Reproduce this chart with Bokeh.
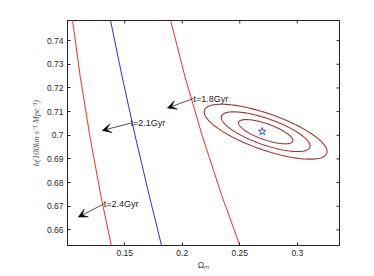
import numpy as np
from bokeh.plotting import figure
from bokeh.models import (FixedTicker, CustomJSTickFormatter, Range1d, Arrow, VeeHead, Label)
from bokeh.embed import file_html
from bokeh.resources import INLINE

# ---- data ----
h_grid = [0.65, 0.675, 0.70, 0.725, 0.75]
om_t18 = [0.2526, 0.2340, 0.2172, 0.2022, 0.1891]
om_t21 = [0.1837, 0.1710, 0.1589, 0.1476, 0.1370]
om_t24 = [0.1397, 0.1290, 0.1195, 0.1112, 0.1042]

age_labels = ["t=1.8Gyr", "t=2.1Gyr", "t=2.4Gyr"]
label_om = [0.2097, 0.1550, 0.1318]
label_h = [0.7155, 0.7051, 0.6710]
arrow_om = [0.1871, 0.1304, 0.1096]
arrow_h = [0.7115, 0.7020, 0.6654]

best_om, best_h = 0.2695, 0.7016
cont_om, cont_h = 0.2725, 0.7015
sigma_om, sigma_h, rho = 0.01555, 0.00338, -0.72
dchi2_levels = [2.30, 6.17, 11.8]

x_ticks = [0.15, 0.2, 0.25, 0.3]
y_ticks = [0.66, 0.67, 0.68, 0.69, 0.70, 0.71, 0.72, 0.73, 0.74]
x_lim = (0.1002, 0.3367)
y_lim = (0.6534, 0.7485)

AX = "#262626"
FONT = "Liberation Sans"

p = figure(width=370, height=272, output_backend="svg", toolbar_location=None,
           x_range=Range1d(*x_lim), y_range=Range1d(*y_lim),
           min_border_left=67, min_border_right=31, min_border_top=20, min_border_bottom=27)
p.grid.visible = False
p.outline_line_color = AX
p.outline_line_width = 1
p.background_fill_color = "white"

fmt = CustomJSTickFormatter(code="return String(Math.round(tick*100)/100);")

for ax, ticks in ((p.xaxis[0], x_ticks), (p.yaxis[0], y_ticks)):
    ax.ticker = FixedTicker(ticks=ticks)
    ax.formatter = fmt
    ax.major_tick_in = 3
    ax.major_tick_out = 0
    ax.minor_tick_line_color = None
    ax.axis_line_color = AX
    ax.axis_line_width = 1
    ax.major_tick_line_color = AX
    ax.major_label_text_font = FONT
    ax.major_label_text_color = AX
    ax.major_label_text_font_size = "8.5px"
    ax.major_label_standoff = 4

p.yaxis[0].axis_label = "h(100km s\u207b\u00b9 Mpc\u207b\u00b9)"
p.yaxis[0].axis_label_text_font = "Liberation Serif"
p.yaxis[0].axis_label_text_font_style = "italic"
p.yaxis[0].axis_label_text_font_size = "8.5px"
p.yaxis[0].axis_label_text_color = "#555555"
p.yaxis[0].axis_label_standoff = 3

p.xaxis[0].axis_label = "\u03a9\u2098"
p.xaxis[0].axis_label_text_font = FONT
p.xaxis[0].axis_label_text_font_style = "normal"
p.xaxis[0].axis_label_text_font_size = "8.5px"
p.xaxis[0].axis_label_text_color = "#444444"
p.xaxis[0].axis_label_standoff = 1

# inward tick marks on the top and right edges of the box (half of each dash is clipped)
p.scatter(x_ticks, [y_lim[1]] * len(x_ticks), marker="dash", angle=np.pi / 2, size=6,
          line_color=AX, line_width=1)
p.scatter([x_lim[1]] * len(y_ticks), y_ticks, marker="dash", size=6,
          line_color=AX, line_width=1)

# age curves
p.line(om_t24, h_grid, line_color="#ff2a2a", line_width=1)
p.line(om_t21, h_grid, line_color="#2a2aff", line_width=1)
p.line(om_t18, h_grid, line_color="#ff2a2a", line_width=1)

# confidence contours (Gaussian ellipses from the read centre/widths)
t = np.linspace(0, 2 * np.pi, 200)
for lev in dchi2_levels:
    r = np.sqrt(lev)
    xs = cont_om + r * sigma_om * np.cos(t)
    ys = cont_h + r * sigma_h * (rho * np.cos(t) + np.sqrt(1 - rho ** 2) * np.sin(t))
    p.line(xs, ys, line_color="#a33434", line_width=1.1)

p.scatter([best_om], [best_h], marker="star", size=8, fill_color=None,
          line_color="#3050ff", line_width=1)

# arrows + labels
for txt, lx, ly, ax_, ay in zip(age_labels, label_om, label_h, arrow_om, arrow_h):
    p.add_layout(Arrow(end=VeeHead(size=9, fill_color="black", line_color="black", line_width=0.5),
                       x_start=lx, y_start=ly, x_end=ax_, y_end=ay,
                       line_color="#222222", line_width=0.8))
    p.add_layout(Label(x=lx, y=ly, text=txt, text_font=FONT, text_font_size="9px",
                       text_baseline="middle", text_align="left", text_color="#222222"))

open("out.html", "w").write(file_html(p, INLINE))
